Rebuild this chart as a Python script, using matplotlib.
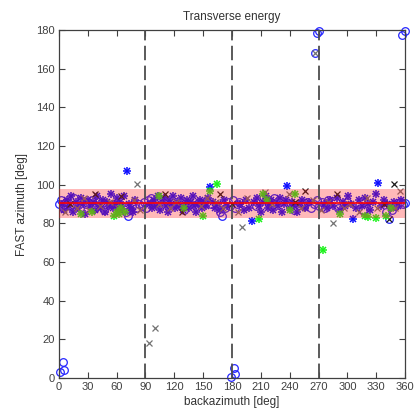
import matplotlib
matplotlib.use("Agg")
import matplotlib.pyplot as plt
import numpy as np

plt.rcParams['font.family'] = ['Liberation Sans', 'DejaVu Sans']

title = "Transverse energy"
xlabel = "backazimuth [deg]"
ylabel = "FAST azimuth [deg]"
xticks = list(range(0, 361, 30))
yticks = list(range(0, 181, 20))
dashed_baz = [90, 180, 270]
band_low, band_mean, band_high = 83.0, 90.5, 98.0

# blue asterisks
star_baz = [3, 5, 8, 10, 13, 15, 18, 20, 23, 25, 27, 30, 32, 35, 37, 40, 42, 44, 46, 48, 50, 52, 54, 56, 58, 60,
            62, 64, 66, 68, 71, 73, 75, 77, 79, 95, 97, 99, 101, 103, 105, 107, 109, 111, 113, 115, 117, 119, 121,
            123, 125, 127, 129, 131, 133, 135, 137, 139, 141, 143, 145, 147, 149, 151, 153, 155, 157.6, 160, 162,
            165, 168, 172, 175, 188, 192, 195, 198, 200.5, 203, 206, 208, 210, 212, 215, 217, 219, 221, 223, 226,
            228, 230, 232, 234, 236, 237.5, 240, 242, 245, 248, 250, 253, 256, 260, 276, 279, 282, 285, 289, 292,
            295, 298, 301, 304, 306, 309, 312, 315, 318, 321, 324, 327, 330, 332, 335, 338, 341, 345, 349, 353, 356]
star_fast = [90, 87, 92, 89, 94, 86, 91, 88, 93, 90, 85, 92, 89, 91, 87, 94, 90, 88, 92, 86, 91, 89, 95, 88, 90, 93,
             87, 91, 89, 94, 107, 90, 88, 86, 92, 90, 88, 92, 89, 94, 87, 91, 93, 89, 86, 92, 90, 94, 88,
             91, 89, 93, 87, 90, 92, 88, 91, 94, 89, 86, 90, 92, 88, 91, 89, 93, 99, 91, 88,
             90, 87, 92, 89, 90, 87, 92, 88, 81, 91, 93, 89, 86, 91, 94, 88, 90, 92, 87, 91,
             89, 93, 86, 90, 92, 99.6, 88, 91, 89, 86, 90, 92, 88, 91, 90, 88, 92, 89, 93, 87,
             91, 89, 94, 90, 82.5, 88, 92, 89, 93, 90, 87, 91, 95, 101, 89, 92, 90, 88, 91, 89, 92]

# blue open circles
circ_baz = [0, 2, 4, 7, 11, 16, 22, 28, 34, 38, 41, 47, 55, 63, 70, 72, 74, 76, 80, 83, 86, 88, 91, 93, 96, 99,
            130, 146, 158, 168, 170, 173, 176, 178, 181, 183, 185, 187, 205, 224, 244, 255, 258, 262, 265, 268,
            271, 274, 277, 280, 290, 300, 316, 340, 343, 346, 350, 355, 358, 360,
            1, 3.8, 5.2, 179, 181.7, 183.5, 268, 270.8, 266.7, 357, 360]
circ_fast = [90, 92, 88, 91, 89, 93, 88, 90, 92, 88, 91, 87, 90, 89, 86, 84, 87, 89, 88, 90, 89, 91, 88, 92, 93, 91,
             87, 91, 90, 86, 84, 88, 91, 89, 92, 88, 90, 91, 89, 93, 87, 89, 91, 88, 90, 92,
             89, 91, 88, 92, 88, 91, 87, 86, 82.3, 87, 89, 91, 90, 90.5,
             3.3, 8.5, 4.2, 0.5, 5.3, 2, 178.4, 179.6, 168.4, 177.6, 179.6]

# grey crosses
xg_baz = [6, 19, 26, 31, 43, 53, 61, 78, 80.8, 84, 93.6, 100, 104, 116, 122, 148, 154, 163, 171, 186, 190, 196,
          214, 222, 239, 252, 264, 273, 280, 285.4, 296, 303, 312, 320, 331, 350, 355, 266.7]
xg_fast = [86, 88, 93, 87, 89, 91, 88, 92, 100.6, 87, 18.3, 26, 90, 88, 91, 89, 93, 91, 88, 86, 78, 93,
           96, 90, 95, 88, 92, 87, 91, 80, 88, 90, 86, 93, 88, 88, 96.6, 168.4]

# dark crosses
xd_baz = [12, 37, 65, 110, 128, 168, 180, 246, 256, 289, 338, 348.5, 343]
xd_fast = [90, 95, 94, 95, 86, 95, 90, 91, 97, 95, 90, 100.6, 82.3]

# green asterisks
g_baz = [23, 34, 57, 60, 63, 65, 69, 104, 130, 150, 157, 164.7, 208.4, 212, 216, 240, 246, 275, 292, 318, 321,
         330, 340, 345]
g_fast = [85, 86, 84, 86, 85, 88, 86, 94, 88, 84, 97, 100.5, 82.3, 95, 92, 87, 95, 66, 85, 84, 83.5,
          83, 84, 88]

fig = plt.figure(figsize=(4.15, 4.19), dpi=100)
ax = fig.add_axes([0.142, 0.098, 0.834, 0.830])


def asterisk(x, y, color):
    ax.plot(x, y, '+', color=color, ms=6, mew=1.1, ls='none', zorder=2)
    ax.plot(x, y, 'x', color=color, ms=4.5, mew=1.1, ls='none', zorder=2)


ax.plot(circ_baz, circ_fast, 'o', mfc='none', mec=(0.15, 0.15, 1.0), ms=5.5, mew=0.9, ls='none', zorder=2,
        clip_on=False)
asterisk(star_baz, star_fast, (0.05, 0.05, 1.0))
ax.plot(xg_baz, xg_fast, 'x', color=(0.45, 0.45, 0.45), ms=4.5, mew=0.9, ls='none', zorder=2)
ax.plot(xd_baz, xd_fast, 'x', color=(0.1, 0.1, 0.1), ms=4.5, mew=0.9, ls='none', zorder=2)
asterisk(g_baz, g_fast, (0.1, 0.95, 0.1))

ax.axhspan(band_low, band_high, color=(1.0, 0.1, 0.1), alpha=0.3, lw=0, zorder=3)
ax.axhline(band_mean, color='red', lw=1.2, zorder=4)
for b in dashed_baz:
    ax.axvline(b, color=(0.3, 0.3, 0.3), lw=1.3, ls=(0, (8, 3)), zorder=5)

ax.set_xlim(0, 360)
ax.set_ylim(0, 180)
ax.set_xticks(xticks)
ax.set_yticks(yticks)
ax.tick_params(direction='in', length=4, width=0.8, top=True, right=True, labelsize=8,
               colors=(0.25, 0.25, 0.25), pad=3)
for s in ax.spines.values():
    s.set_color((0.25, 0.25, 0.25))
    s.set_linewidth(0.9)
ax.set_title(title, fontsize=8.5, color=(0.2, 0.2, 0.2), pad=7)
ax.set_xlabel(xlabel, fontsize=8.5, color=(0.2, 0.2, 0.2), labelpad=3)
ax.set_ylabel(ylabel, fontsize=8.5, color=(0.2, 0.2, 0.2), labelpad=6)

fig.savefig("out.png", dpi=100)
